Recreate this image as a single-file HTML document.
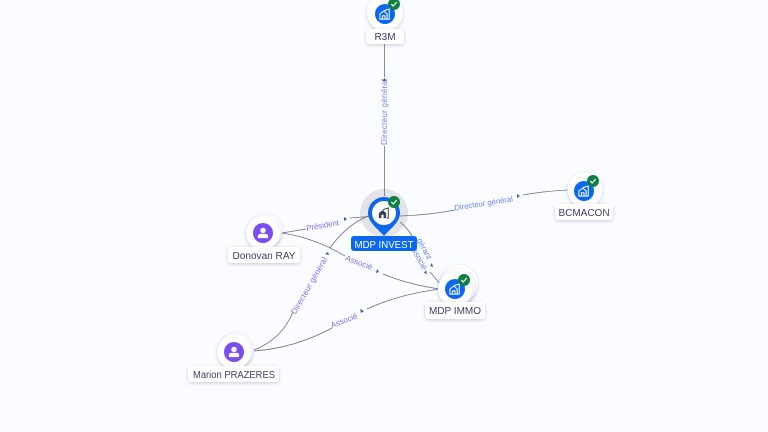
<!DOCTYPE html>
<html><head><meta charset="utf-8"><style>
html,body{margin:0;padding:0;background:#fafcff}
svg{display:block}
text{font-family:"Liberation Sans",sans-serif}
.e{fill:none;stroke:#6a6e88;stroke-width:.8}
.l{font-size:8px;fill:#7d6ff0;text-anchor:middle}
.b{fill:#6f86ea}
.n{font-size:10px;fill:#3c3f66;text-anchor:middle}
.a{fill:#3d55c8}
</style></head><body>
<svg width="768" height="432" viewBox="0 0 768 432" xmlns="http://www.w3.org/2000/svg">
<defs>
<filter id="s" x="-30%" y="-30%" width="160%" height="160%"><feDropShadow dx="0" dy="1" stdDeviation="1.5" flood-color="#707898" flood-opacity=".38"/></filter>
<g id="chk"><circle r="6" fill="#0f7f45"/><path d="M-2.7 0 L-.8 2 L2.8 -2" fill="none" stroke="#fff" stroke-width="1.2"/></g>
<g id="co"><path d="M-6 6 V0 L-1.5 -3.5 L2.5 0 V6 Z M-3 6 V2 H0 V6" fill="none" stroke="#fff" stroke-width="1.2"/><path d="M-1 -4 L5 -6 V6 H3" fill="none" stroke="#fff" stroke-width="1.2"/></g>
<g id="pe"><circle cy="-3" r="3.2" fill="#fff"/><path d="M-6 6 V4 Q-6 1 -3 1 H3 Q6 1 6 4 V6 Z" fill="#fff"/></g>
</defs>
<rect width="768" height="432" fill="#fafcff"/>
<circle cx="384" cy="213" r="24" fill="#e3e4e8"/>

<!-- edges -->
<path class="e" d="M384.5 44V77M384.5 146V196"/>
<path class="e" d="M400 216Q430 215 455 210M523 195Q545 191 568 190"/>
<path class="e" d="M282 233L306 229M370 216.5L350 218"/>
<path class="e" d="M282 233Q315 238 345 256M383 274Q410 285 440 289"/>
<path class="e" d="M254 350Q282 339 293 312M330 248Q345 226 368 216"/>
<path class="e" d="M254 351Q295 348 332 328M367 309Q400 294 440 289"/>
<path class="e" d="M400 222Q409 229 414 240M430 272L441 285"/>

<!-- edge labels -->
<text class="l b" transform="translate(387,112) rotate(-90)" textLength="66" lengthAdjust="spacing">Directeur général</text>
<path class="a" d="M384.5 78l2 3h-4z"/>
<text class="l b" transform="translate(484,206) rotate(-9)" textLength="59" lengthAdjust="spacingAndGlyphs">Directeur général</text>
<path class="a" d="M520 196l-3 2v-4z"/>
<text class="l" transform="translate(323,228) rotate(-10)" textLength="33" lengthAdjust="spacingAndGlyphs">Président</text>
<path class="a" d="M347 219l-3 2v-4z"/>
<text class="l" transform="translate(358,265) rotate(21)">Associé</text>
<path class="a" d="M379 272l-3 1 1-4z"/>
<text class="l" transform="translate(311.5,287) rotate(-60)" textLength="64" lengthAdjust="spacing">Directeur général</text>
<path class="a" d="M328 252l1 3-4-1z"/>
<text class="l" transform="translate(345,323) rotate(-21)">Associé</text>
<path class="a" d="M364 311l-3 2-1-4z"/>
<text class="l b" transform="translate(416,258) rotate(62)">Associé</text>
<text class="l b" transform="translate(422,250) rotate(62)">gérant</text>
<path class="a" d="M433 267l-3 -1 2-3z"/>
<path class="a" d="M427 274l-3 -1 2-3z"/>

<!-- R3M -->
<circle cx="385" cy="13" r="18" fill="#fff" filter="url(#s)"/>
<circle cx="385" cy="14" r="10" fill="#0b66f0"/>
<use href="#co" transform="translate(385,14) scale(.85)"/>
<use href="#chk" x="394" y="4"/>
<rect x="366" y="29" width="38" height="15" rx="3" fill="#fff" filter="url(#s)"/>
<text class="n" x="385" y="40">R3M</text>

<!-- BCMACON -->
<circle cx="585" cy="190" r="17.5" fill="#fff" filter="url(#s)"/>
<circle cx="584" cy="191" r="10" fill="#0b66f0"/>
<use href="#co" transform="translate(584,191) scale(.85)"/>
<use href="#chk" x="593" y="181"/>
<rect x="555" y="204" width="58" height="16" rx="3" fill="#fff" filter="url(#s)"/>
<text class="n" x="584" y="216">BCMACON</text>

<!-- MDP IMMO -->
<circle cx="459" cy="284" r="19" fill="#fff" filter="url(#s)"/>
<circle cx="457" cy="287" r="18" fill="#fff" filter="url(#s)"/>
<circle cx="455" cy="289" r="17" fill="#fff" filter="url(#s)"/>
<circle cx="455" cy="289" r="10" fill="#0b66f0"/>
<use href="#co" transform="translate(455,289) scale(.85)"/>
<use href="#chk" x="464" y="280"/>
<rect x="425" y="302" width="60" height="17" rx="3" fill="#fff" filter="url(#s)"/>
<text class="n" x="455" y="314" textLength="52" lengthAdjust="spacingAndGlyphs">MDP IMMO</text>

<!-- Donovan -->
<circle cx="265" cy="231" r="17" fill="#fff" filter="url(#s)"/>
<circle cx="263" cy="233" r="17" fill="#fff" filter="url(#s)"/>
<circle cx="263" cy="233" r="10" fill="#7b4df0"/>
<use href="#pe" transform="translate(263,233) scale(.85)"/>
<rect x="228" y="247" width="72" height="16" rx="3" fill="#fff" filter="url(#s)"/>
<text class="n" x="264" y="259" textLength="63" lengthAdjust="spacingAndGlyphs">Donovan RAY</text>

<!-- Marion -->
<circle cx="236" cy="350" r="17" fill="#fff" filter="url(#s)"/>
<circle cx="234" cy="352" r="17" fill="#fff" filter="url(#s)"/>
<circle cx="234" cy="352" r="10" fill="#7b4df0"/>
<use href="#pe" transform="translate(234,352) scale(.85)"/>
<rect x="188" y="366" width="91" height="16" rx="3" fill="#fff" filter="url(#s)"/>
<text class="n" x="234" y="378" textLength="82" lengthAdjust="spacingAndGlyphs">Marion PRAZERES</text>

<!-- MDP INVEST -->
<path d="M368 213A16 16 0 1 1 400 213C400 222 391 228 384 236C377 228 368 222 368 213Z" fill="#0b66f0"/>
<circle cx="384" cy="213" r="12" fill="#fff"/>
<g transform="translate(384,213) scale(.85)"><path d="M-6 6V0L-1.5 -3.5L2.5 0V6Z" fill="#3c3f55"/><path d="M-1 -4L5 -6V6H3" fill="none" stroke="#3c3f55" stroke-width="1.2"/><rect x="-3" y="2" width="2.5" height="4" fill="#fff"/></g>
<use href="#chk" x="394" y="202"/>
<rect x="351" y="236" width="66" height="15" rx="3" fill="#0b66f0"/>
<text x="384" y="248" font-size="10" fill="#fff" text-anchor="middle" textLength="59" lengthAdjust="spacingAndGlyphs">MDP INVEST</text>
</svg>
</body></html>
